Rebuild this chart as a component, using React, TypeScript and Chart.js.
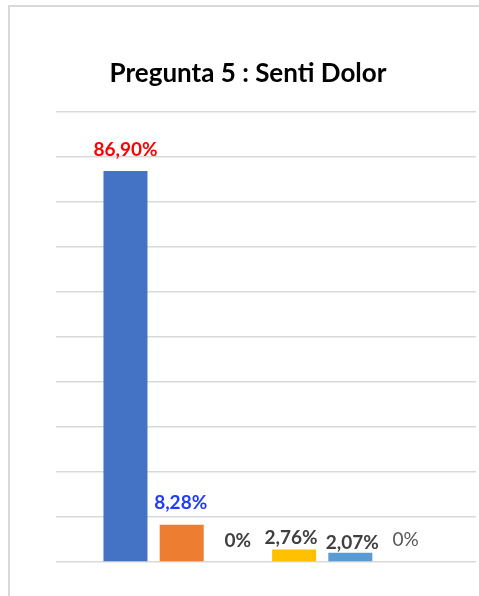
import React, { useEffect, useRef } from "react";
import { Chart, registerables } from "chart.js";

Chart.register(...registerables);

const title = "Pregunta 5 : Senti Dolor";
const categories = [""];
const seriesNames = ["Opción 1", "Opción 2", "Opción 3", "Opción 4", "Opción 5", "Opción 6"];
const seriesValues = [86.9, 8.28, 0, 2.76, 2.07, 0];
const seriesColors = ["#4472C4", "#ED7D31", "#A5A5A5", "#FFC000", "#5B9BD5", "#70AD47"];
const labelColors = ["#FF0000", "#1F3CFF", "#404040", "#404040", "#404040", "#595959"];
const labelWeights = ["bold", "bold", "bold", "bold", "bold", "normal"];
const labelLift = [21, 22, 21, 12, 10, 22];
const labelShift = [0, -1, 0, -3, 2, -1];
const yMax = 100;
const yStep = 10;

const fmt = (v: number) => (v === 0 ? "0%" : v.toFixed(2).replace(".", ",") + "%");

const labelPlugin = {
  id: "customLabels",
  afterDatasetsDraw(chart: any) {
    const ctx = chart.ctx;
    ctx.save();
    ctx.textAlign = "center";
    ctx.textBaseline = "middle";
    chart.data.datasets.forEach((ds: any, i: number) => {
      const meta = chart.getDatasetMeta(i);
      const el = meta.data[0];
      if (!el) return;
      ctx.font = `${labelWeights[i]} 19px Lato, "Open Sans", sans-serif`;
      ctx.fillStyle = labelColors[i];
      ctx.fillText(fmt(ds.data[0]), el.x + labelShift[i], el.y - labelLift[i]);
    });
    ctx.fillStyle = "#000000";
    ctx.font = `bold 26px Lato, "Open Sans", sans-serif`;
    ctx.fillText(title, 248, 74);
    ctx.restore();
  },
};

export default function App() {
  const ref = useRef<HTMLCanvasElement>(null);
  useEffect(() => {
    if (!ref.current) return;
    const chart = new Chart(ref.current, {
      type: "bar",
      data: {
        labels: categories,
        datasets: seriesNames.map((n, i) => ({
          label: n,
          data: [seriesValues[i]],
          backgroundColor: seriesColors[i],
          categoryPercentage: 0.803,
          barPercentage: 0.783,
        })),
      },
      options: {
        responsive: false,
        animation: false,
        layout: { padding: { left: 56, top: 112, right: 3, bottom: 34 } },
        plugins: { legend: { display: false }, tooltip: { enabled: false }, title: { display: false } },
        scales: {
          x: {
            display: true,
            grid: { display: false, drawTicks: false },
            border: { display: false },
            ticks: { display: false },
          },
          y: {
            min: 0,
            max: yMax,
            display: true,
            grid: { color: "#d9d9d9", lineWidth: 1.5, drawTicks: false },
            border: { display: false },
            ticks: { display: false, stepSize: yStep },
          },
        },
      },
      plugins: [labelPlugin],
    });
    return () => chart.destroy();
  }, []);
  return (
    <div style={{ position: "absolute", left: 0, top: 0, width: 479, height: 596, overflow: "hidden", background: "#fff" }}>
      <div style={{ position: "absolute", left: 8, top: 5, width: 490, height: 620, border: "2px solid #d9d9d9", boxSizing: "border-box" }} />
      <canvas ref={ref} width={479} height={596} style={{ position: "absolute", left: 0, top: 0 }} />
    </div>
  );
}
